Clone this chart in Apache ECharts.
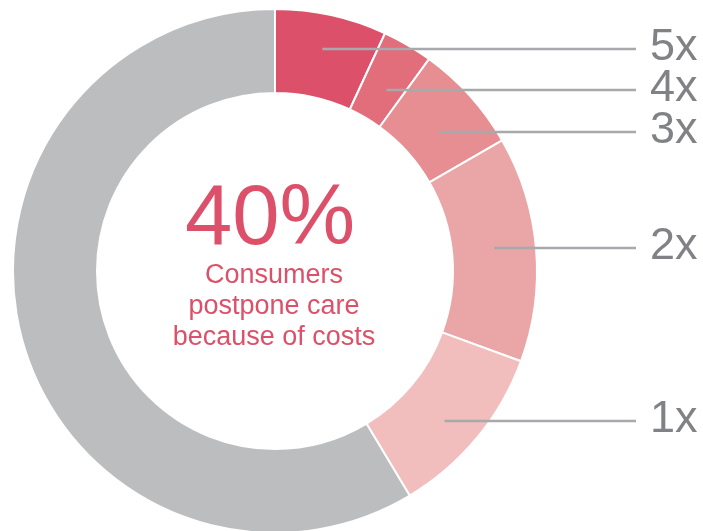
<!DOCTYPE html>
<html>
<head>
<meta charset="utf-8">
<script src="https://cdn.jsdelivr.net/npm/echarts@6/dist/echarts.min.js"></script>
<style>
html,body{margin:0;padding:0;background:#fff;}
#chart{width:703px;height:531px;}
</style>
</head>
<body>
<div id="chart"></div>
<script>
// Data
const categories = ['5x', '4x', '3x', '2x', '1x', 'Other'];
const values = [6.9, 3.1, 6.7, 13.9, 10.8, 58.6];
const headline = '40%';
const subtitleLines = ['Consumers', 'postpone care', 'because of costs'];

// Styles / layout
const sliceColors = ['#DC506A', '#E26E7B', '#E68E91', '#EAA5A6', '#F1BEBD', '#BCBDBF'];
const cx = 275, cy = 271, rIn = 178, rOut = 262;
const labelYs = [49, 90, 132, 248, 421];
const lineEndX = 636, labelX = 650;

const total = values.reduce((a, b) => a + b, 0);
function midAngle(i) {
  let before = 0;
  for (let k = 0; k < i; k++) before += values[k];
  return ((before + values[i] / 2) / total) * 2 * Math.PI; // clockwise from top
}

const chart = echarts.init(document.getElementById('chart'), null, {renderer: 'canvas'});
const fontFam = '"Liberation Sans", Arial, Helvetica, sans-serif';

// leader lines: start at each slice's mid-angle, mid-ring point, run horizontally to the label
const leaderLines = labelYs.map((y, i) => {
  const sx = cx + ((rIn + rOut) / 2) * Math.sin(midAngle(i));
  return {
    type: 'line',
    z: 100,
    silent: true,
    shape: {x1: sx, y1: y, x2: lineEndX, y2: y},
    style: {stroke: '#A7A9AC', lineWidth: 2.5}
  };
});

chart.setOption({
  animation: false,
  backgroundColor: '#ffffff',
  series: [{
    type: 'pie',
    center: [cx, cy],
    radius: [rIn, rOut],
    startAngle: 90,
    clockwise: true,
    avoidLabelOverlap: false,
    emphasis: {disabled: true},
    itemStyle: {borderColor: '#ffffff', borderWidth: 2},
    label: {
      show: true,
      position: 'outside',
      color: '#808285',
      fontSize: 45,
      fontFamily: fontFam,
      formatter: '{b}'
    },
    labelLine: {show: false},
    labelLayout: function (params) {
      const i = params.dataIndex;
      if (i >= labelYs.length) return {};
      return {
        x: labelX,
        y: labelYs[i] - 1,
        align: 'left',
        verticalAlign: 'middle'
      };
    },
    data: categories.map((c, i) => {
      const d = {name: c, value: values[i], itemStyle: {color: sliceColors[i]}};
      if (i >= labelYs.length) d.label = {show: false};
      return d;
    })
  }],
  graphic: leaderLines.concat([
    {
      type: 'text',
      z: 100,
      style: {
        text: headline,
        x: 270,
        y: 221,
        align: 'center',
        verticalAlign: 'middle',
        fill: '#DC506A',
        font: '85px ' + fontFam
      }
    },
    {
      type: 'text',
      z: 100,
      style: {
        text: subtitleLines.join('\n'),
        x: 274,
        y: 307,
        align: 'center',
        verticalAlign: 'middle',
        lineHeight: 31,
        fill: '#DC506A',
        font: '27px ' + fontFam
      }
    }
  ])
});
</script>
</body>
</html>
